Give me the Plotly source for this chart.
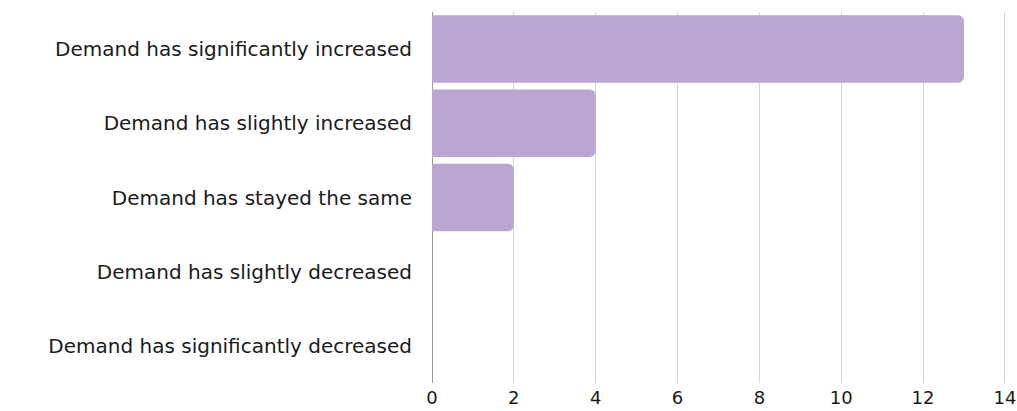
import plotly.graph_objects as go

categories = [
    "Demand has significantly increased",
    "Demand has slightly increased",
    "Demand has stayed the same",
    "Demand has slightly decreased",
    "Demand has significantly decreased",
]
responses = [13, 4, 2, 0, 0]
x_ticks = [0, 2, 4, 6, 8, 10, 12, 14]

font_family = "DejaVu Sans, Verdana, sans-serif"

fig = go.Figure(
    go.Bar(
        y=categories,
        x=responses,
        orientation="h",
        marker=dict(color="#BBA6D2", line=dict(width=0)),
        width=0.91,
        hoverinfo="x+y",
    )
)

fig.update_layout(
    width=1017,
    height=411,
    margin=dict(l=432, r=8, t=12, b=28, autoexpand=False),
    paper_bgcolor="white",
    plot_bgcolor="white",
    barcornerradius=6,
    showlegend=False,
    font=dict(family=font_family, color="#1a1a1a"),
)

fig.update_xaxes(
    range=[0, 14.1],
    tickvals=x_ticks,
    showgrid=True,
    gridcolor="#D6D6D6",
    gridwidth=1,
    zeroline=True,
    zerolinecolor="#9a9a9a",
    zerolinewidth=1,
    showline=False,
    ticks="",
    tickfont=dict(size=18, color="#1a1a1a"),
    ticklabelstandoff=2,
    ticklabeloverflow="allow",
    automargin=False,
)

fig.update_yaxes(
    categoryorder="array",
    categoryarray=categories[::-1],
    showgrid=False,
    showline=False,
    ticks="",
    tickfont=dict(size=20, color="#1a1a1a"),
    ticklabelstandoff=19,
    automargin=False,
)

fig.write_html("out.html")
